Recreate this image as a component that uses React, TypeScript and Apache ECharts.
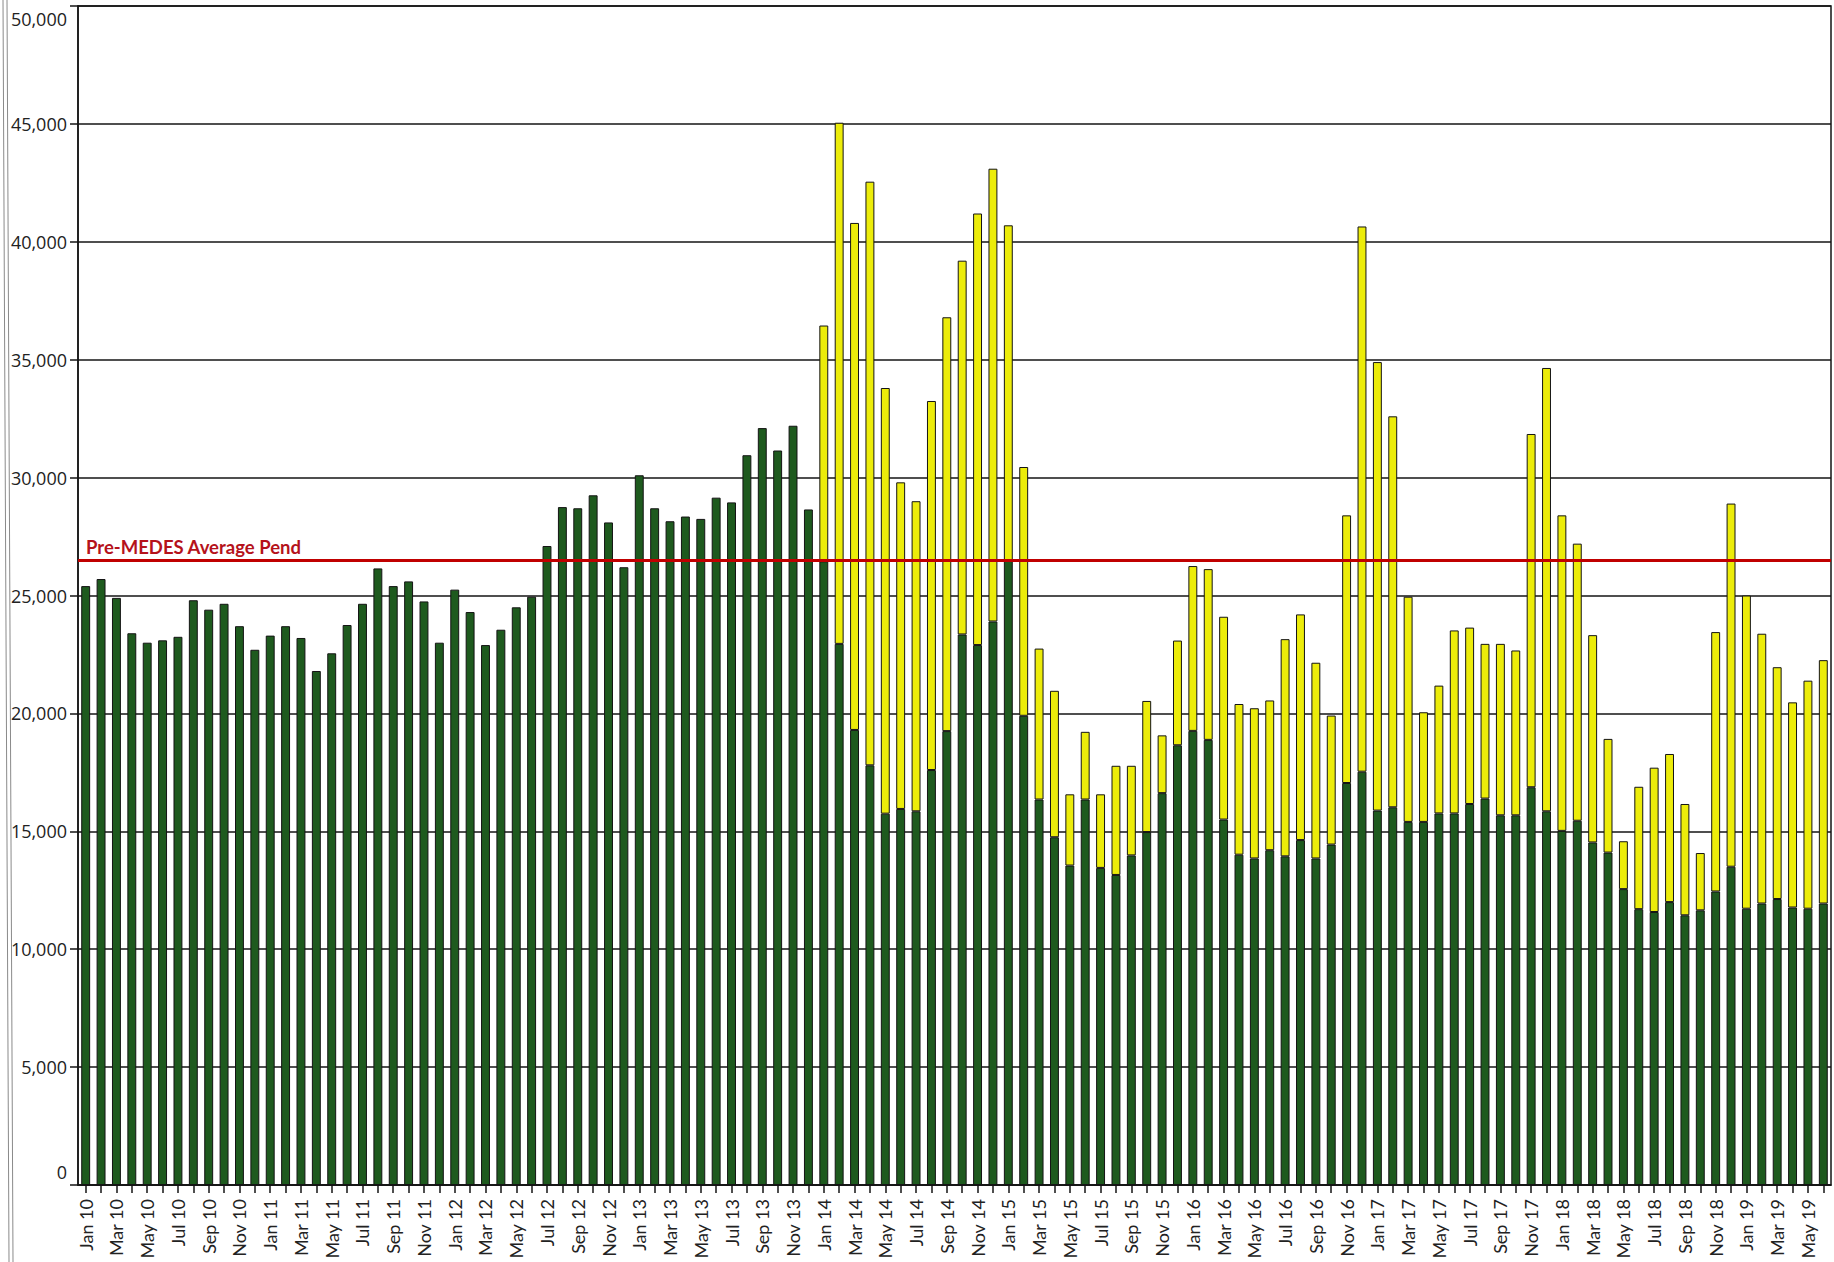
import React, { useEffect, useRef } from "react";
import * as echarts from "echarts";

// ---------- data ----------
const MONTHS = ["Jan", "Feb", "Mar", "Apr", "May", "Jun", "Jul", "Aug", "Sep", "Oct", "Nov", "Dec"];
const YEARS = ["10", "11", "12", "13", "14", "15", "16", "17", "18", "19"];
const MONTH_COUNT = 114; // Jan 10 .. Jun 19

const categories: string[] = [];
YEARS.forEach((y) => MONTHS.forEach((m) => categories.push(`${m} ${y}`)));
categories.length = MONTH_COUNT;

// green (lower) segment, by year
const green2010 = [25400, 25700, 24900, 23400, 23000, 23100, 23250, 24800, 24400, 24650, 23700, 22700];
const green2011 = [23300, 23700, 23200, 21800, 22550, 23750, 24650, 26150, 25400, 25600, 24750, 23000];
const green2012 = [25250, 24300, 22900, 23550, 24500, 24950, 27100, 28750, 28700, 29250, 28100, 26200];
const green2013 = [30100, 28700, 28150, 28350, 28250, 29150, 28950, 30950, 32100, 31150, 32200, 28650];
const green2014 = [26450, 22950, 19300, 17800, 15750, 15950, 15850, 17600, 19250, 23350, 22900, 23900];
const green2015 = [26500, 19900, 16350, 14750, 13550, 16350, 13450, 13150, 13980, 14970, 16620, 18650];
const green2016 = [19260, 18880, 15500, 14010, 13850, 14200, 13940, 14630, 13850, 14440, 17050, 17530];
const green2017 = [15880, 16020, 15400, 15400, 15760, 15760, 16160, 16390, 15680, 15680, 16870, 15850];
const green2018 = [15020, 15450, 14530, 14100, 12550, 11700, 11580, 12000, 11440, 11650, 12450, 13500];
const green2019 = [11720, 11940, 12130, 11770, 11720, 11940];

// total bar height (green + yellow), from Jan 14 on
const total2014 = [36450, 45050, 40800, 42550, 33800, 29800, 29000, 33250, 36800, 39200, 41200, 43100];
const total2015 = [40700, 30450, 22750, 20960, 16570, 19220, 16570, 17780, 17780, 20530, 19070, 23090];
const total2016 = [26250, 26120, 24100, 20400, 20220, 20550, 23150, 24200, 22150, 19910, 28400, 40650];
const total2017 = [34900, 32600, 24950, 20050, 21180, 23520, 23640, 22950, 22950, 22670, 31850, 34650];
const total2018 = [28400, 27200, 23320, 18920, 14580, 16890, 17700, 18280, 16160, 14080, 23450, 28900];
const total2019 = [25000, 23380, 21960, 20470, 21390, 22260];

const Y_MIN = 0;
const Y_MAX = 50000;
const Y_STEP = 5000;

const PRE_MEDES_AVERAGE = 26500;
const PRE_MEDES_LABEL = "Pre-MEDES Average Pend";

// ---------- derived ----------
const greenValues = [
  ...green2010, ...green2011, ...green2012, ...green2013, ...green2014,
  ...green2015, ...green2016, ...green2017, ...green2018, ...green2019,
];
const totalValues = [...total2014, ...total2015, ...total2016, ...total2017, ...total2018, ...total2019];
const firstTotalIndex = MONTH_COUNT - totalValues.length;
const yellowValues = greenValues.map((g, i) =>
  i < firstTotalIndex ? null : totalValues[i - firstTotalIndex] - g
);

const GREEN = "#1e5a1e";
const YELLOW = "#ecec0a";
const INK = "#141414";

function fmt(v: number) {
  return v.toLocaleString("en-US");
}

export default function App() {
  const ref = useRef<HTMLDivElement | null>(null);

  useEffect(() => {
    if (!ref.current) return;
    const chart = echarts.init(ref.current, null, { renderer: "svg" });
    const labelFont = { fontFamily: "Open Sans", fontSize: 18, color: "#222" };
    chart.setOption({
      animation: false,
      backgroundColor: "#ffffff",
      graphic: [
        { type: "line", shape: { x1: 3, y1: 0, x2: 9, y2: 1262 }, style: { stroke: "#8a8a8a", lineWidth: 1 } },
        { type: "line", shape: { x1: 7, y1: 0, x2: 13, y2: 1262 }, style: { stroke: "#8a8a8a", lineWidth: 1 } },
      ],
      grid: {
        left: 78,
        right: 3,
        top: 6,
        bottom: 75,
        show: true,
        borderColor: INK,
        borderWidth: 1.5,
        backgroundColor: "transparent",
      },
      xAxis: {
        type: "category",
        data: categories,
        boundaryGap: true,
        axisLine: { lineStyle: { color: INK, width: 1.5 } },
        axisTick: { show: true, alignWithLabel: true, interval: 0, length: 8, lineStyle: { color: INK, width: 1.5 } },
        axisLabel: {
          interval: 1,
          rotate: 90,
          margin: 14,
          fontFamily: "Lato",
          fontSize: 18,
          color: "#222",
          padding: [10, 0, 0, 0],
        },
        splitLine: { show: false },
      },
      yAxis: {
        type: "value",
        min: Y_MIN,
        max: Y_MAX,
        interval: Y_STEP,
        axisLine: { show: true, lineStyle: { color: INK, width: 1.5 } },
        axisTick: { show: true, length: 8, lineStyle: { color: INK, width: 1.5 } },
        splitLine: { show: true, lineStyle: { color: INK, width: 1.5 } },
        axisLabel: {
          margin: 11,
          ...labelFont,
          formatter: (v: number) => {
            if (v === Y_MAX) return `{t|${fmt(v)}}`;
            if (v === Y_MIN) return `{b|${fmt(v)}}`;
            return fmt(v);
          },
          rich: {
            t: { ...labelFont, padding: [26, 0, 0, 0] },
            b: { ...labelFont, padding: [0, 0, 26, 0] },
          },
        },
      },
      series: [
        {
          name: "Green",
          type: "bar",
          stack: "pend",
          data: greenValues,
          barWidth: "58%",
          itemStyle: { color: GREEN, borderColor: INK, borderWidth: 1 },
          markLine: {
            silent: true,
            symbol: "none",
            data: [{ yAxis: PRE_MEDES_AVERAGE }],
            lineStyle: { color: "#c00000", width: 3, type: "solid" },
            label: {
              show: true,
              position: "insideStartTop",
              formatter: PRE_MEDES_LABEL,
              color: "#b5121b",
              fontFamily: "Lato",
              fontWeight: "bold",
              fontSize: 18.5,
              distance: [8, 4],
            },
          },
        },
        {
          name: "Yellow",
          type: "bar",
          stack: "pend",
          data: yellowValues,
          barWidth: "58%",
          itemStyle: { color: YELLOW, borderColor: INK, borderWidth: 1 },
        },
      ],
    });
    return () => chart.dispose();
  }, []);

  return (
    <div
      ref={ref}
      style={{ position: "fixed", left: 0, top: 0, width: 1834, height: 1262, background: "#fff" }}
    />
  );
}
